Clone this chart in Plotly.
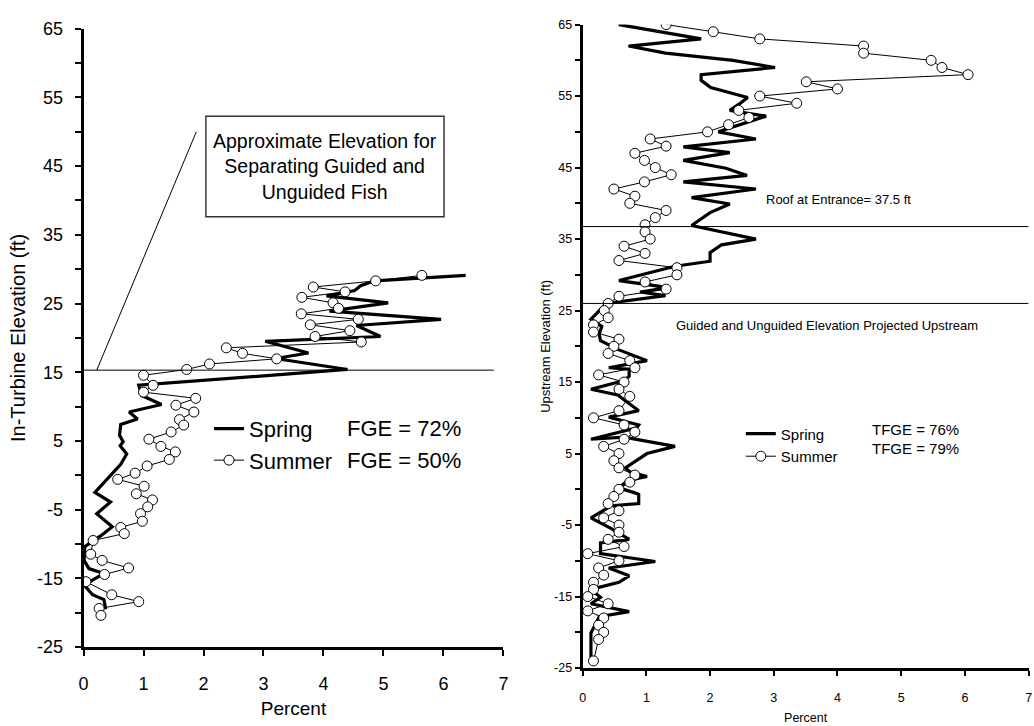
import plotly.graph_objects as go

W, H = 1034, 726

# ---------------- Left panel data (In-turbine) ----------------
left_spring_pct = [6.37, 4.85, 4.62, 4.52, 4.05, 5.08, 4.10, 5.96, 4.55, 4.95, 3.03, 3.75, 3.20, 4.40,
                   0.92, 0.97, 1.30, 0.76, 0.90, 0.62, 0.60, 0.66, 0.61, 0.72, 0.62, 0.48, 0.19, 0.45,
                   0.22, 0.48, 0.29, 0.02, 0.01, 0.09, 0.34, 0.01, 0.15, 0.34, 0.37]
left_spring_elev = [29.1, 28.3, 27.6, 26.9, 26.1, 25.1, 23.9, 22.7, 21.8, 20.2, 19.5, 17.8, 17.0, 15.4,
                    13.1, 11.6, 10.3, 9.2, 8.2, 7.4, 5.8, 4.9, 4.3, 3.1, 1.6, 0.3, -2.5, -3.9,
                    -5.6, -7.5, -8.8, -10.4, -12.4, -13.6, -14.3, -16.0, -17.4, -18.1, -19.5]

left_summer_pct = [5.64, 4.87, 3.83, 4.36, 3.64, 4.16, 4.25, 3.63, 4.58, 3.78, 4.44, 3.86, 4.63,
                   2.38, 2.65, 3.22, 2.10, 1.72, 1.00, 1.16, 1.00, 1.87, 1.54, 1.84, 1.60, 1.67,
                   1.46, 1.09, 1.29, 1.53, 1.43, 1.06, 0.86, 0.57, 1.01, 0.88, 1.15, 1.07, 0.95,
                   0.98, 0.62, 0.68, 0.16, 0.12, 0.31, 0.75, 0.35, 0.04, 0.47, 0.92, 0.26, 0.29]
left_summer_elev = [29.1, 28.3, 27.4, 26.7, 25.9, 25.1, 24.3, 23.5, 22.7, 21.9, 21.05, 20.2, 19.4,
                    18.55, 17.75, 16.95, 16.2, 15.4, 14.55, 13.1, 12.1, 11.2, 10.2, 9.2, 8.1, 7.3,
                    6.3, 5.25, 4.2, 3.4, 2.3, 1.35, 0.3, -0.6, -1.6, -2.7, -3.6, -4.6, -5.6,
                    -6.7, -7.6, -8.5, -9.5, -11.5, -12.4, -13.5, -14.45, -15.5, -17.4, -18.4, -19.4, -20.4]

# ---------------- Right panel data (Upstream) ----------------
right_spring_pct = [0.93, 0.73, 0.57, 1.86, 0.72, 1.30, 2.36, 3.02, 1.86, 1.86, 2.01, 2.44, 2.59, 2.46,
                    2.31, 2.88, 2.13, 2.72, 1.58, 2.31, 1.58, 2.25, 2.58, 1.58, 2.72, 1.71, 2.31, 2.00,
                    1.71, 2.72, 2.18, 2.00, 2.00, 1.45, 0.57, 1.35, 0.90, 1.30, 0.37, 0.22, 0.13, 0.30,
                    0.26, 0.28, 0.57, 1.01, 0.41, 0.73, 0.73, 0.65, 0.13, 0.55, 0.88, 0.41, 0.88, 0.85,
                    0.13, 0.65, 1.45, 1.01, 0.67, 0.75, 1.01, 0.70, 0.57, 0.82, 0.88, 0.88, 0.45, 0.13,
                    0.45, 0.73, 0.28, 0.28, 1.14, 0.41, 0.73, 0.57, 0.13, 0.28, 0.13, 0.73, 0.26, 0.13, 0.13]
right_spring_elev = [65.8, 65.8, 65.0, 63.0, 62.0, 61.0, 60.0, 59.0, 58.0, 57.2, 56.2, 55.2, 54.8, 53.9,
                     53.0, 52.2, 50.0, 49.0, 47.9, 47.1, 46.0, 44.9, 43.9, 43.0, 42.0, 40.8, 39.9, 38.7,
                     36.9, 35.0, 34.2, 33.1, 31.9, 31.2, 29.2, 28.2, 27.6, 27.1, 26.0, 24.6, 23.8, 22.8,
                     21.7, 20.8, 19.5, 18.0, 17.0, 16.8, 15.8, 15.2, 14.0, 13.2, 11.0, 10.1, 9.0, 8.6,
                     7.0, 7.3, 6.0, 5.0, 3.0, 2.4, 1.8, 1.2, 0.2, -0.5, -0.7, -2.0, -2.3, -4.0,
                     -5.5, -7.0, -7.5, -9.0, -10.1, -11.0, -12.1, -13.0, -14.0, -15.1, -16.0, -17.1, -17.8, -20.1, -24.2]

right_summer_pct = [1.31, 2.05, 2.78, 4.41, 4.41, 5.47, 5.64, 6.05, 3.51, 4.00, 2.78, 3.36, 2.45, 2.61,
                    2.29, 1.96, 1.06, 1.31, 0.82, 0.97, 1.14, 1.39, 0.97, 0.49, 0.82, 0.74, 1.31, 1.14,
                    0.98, 0.98, 1.06, 0.65, 0.98, 0.57, 1.48, 1.48, 0.98, 1.31, 0.57, 0.40, 0.34, 0.40,
                    0.17, 0.17, 0.57, 0.49, 0.40, 0.74, 0.82, 0.25, 0.65, 0.57, 0.74, 0.57, 0.17, 0.65,
                    0.82, 0.65, 0.33, 0.57, 0.49, 0.57, 0.82, 0.74, 0.57, 0.49, 0.40, 0.57, 0.33, 0.57,
                    0.57, 0.40, 0.65, 0.08, 0.57, 0.25, 0.33, 0.17, 0.17, 0.08, 0.40, 0.08, 0.33, 0.25,
                    0.33, 0.25, 0.17]
right_summer_elev = [65, 64, 63, 62, 61, 60, 59, 58, 57, 56, 55, 54, 53, 52,
                     51, 50, 49, 48, 47, 46, 45, 44, 43, 42, 41, 40, 39, 38,
                     37, 36, 35, 34, 33, 32, 31, 30, 29, 28, 27, 26, 25, 24,
                     23, 22, 21, 20, 19, 18, 17, 16, 15, 14, 13, 11, 10, 9,
                     8, 7, 6, 5, 4, 3, 2, 1, 0, -1, -2, -3, -4, -5,
                     -6, -7, -8, -9, -10, -11, -12, -13, -14, -15, -16, -17, -18, -19,
                     -20, -21, -24]

# y ticks every 5 ft, labelled every 10 ft
elev_ticks = [-25, -20, -15, -10, -5, 0, 5, 10, 15, 20, 25, 30, 35, 40, 45, 50, 55, 60, 65]
elev_tick_labels = ["-25", "", "-15", "", "-5", "", "5", "", "15", "", "25", "", "35", "", "45", "",
                    "55", "", "65"]
pct_ticks = [0, 1, 2, 3, 4, 5, 6, 7]

# reference lines / labels
left_sep_elev = 15.3
right_roof_elev = 36.75
right_guided_elev = 26.0

FONT = "Liberation Sans, Arial, sans-serif"

fig = go.Figure()

# Left panel
fig.add_trace(go.Scatter(x=left_spring_pct, y=left_spring_elev, mode="lines", name="Spring",
                         line=dict(color="black", width=3.2), xaxis="x", yaxis="y", legend="legend"))
fig.add_trace(go.Scatter(x=left_summer_pct, y=left_summer_elev, mode="lines+markers", name="Summer",
                         line=dict(color="black", width=1),
                         marker=dict(symbol="circle", size=10, color="white", line=dict(color="black", width=1)),
                         xaxis="x", yaxis="y", legend="legend"))
# Right panel
fig.add_trace(go.Scatter(x=right_spring_pct, y=right_spring_elev, mode="lines", name="Spring",
                         line=dict(color="black", width=3.2), xaxis="x2", yaxis="y2", legend="legend2"))
fig.add_trace(go.Scatter(x=right_summer_pct, y=right_summer_elev, mode="lines+markers", name="Summer",
                         line=dict(color="black", width=1),
                         marker=dict(symbol="circle", size=10, color="white", line=dict(color="black", width=1)),
                         xaxis="x2", yaxis="y2", legend="legend2"))

def px_x(p):
    return p / W

def px_y(p):
    return 1 - p / H

axis_common = dict(showline=True, linecolor="black", showgrid=False, zeroline=False,
                   ticks="outside", tickcolor="black")

fig.update_layout(
    width=W, height=H, margin=dict(l=0, r=0, t=0, b=0),
    paper_bgcolor="white", plot_bgcolor="white",
    font=dict(family=FONT, color="black"),
    xaxis=dict(**axis_common, domain=[px_x(79.3), px_x(503.3)], range=[0, 7],
               tickmode="array", tickvals=pct_ticks,
               linewidth=3, ticklen=6, tickwidth=2, tickfont=dict(size=18), ticklabelstandoff=12,
               title=dict(text="Percent", font=dict(size=19), standoff=10), anchor="y"),
    yaxis=dict(**axis_common, domain=[px_y(655), px_y(19.3)], range=[-25, 65],
               tickmode="array", tickvals=elev_ticks, ticktext=elev_tick_labels,
               linewidth=3, ticklen=6, tickwidth=2, tickfont=dict(size=18), ticklabelstandoff=8,
               title=dict(text="In-Turbine Elevation (ft)", font=dict(size=20), standoff=6), anchor="x"),
    xaxis2=dict(**axis_common, domain=[px_x(583.3), px_x(1033.6)], range=[0, 7],
                tickmode="array", tickvals=pct_ticks,
                linewidth=3, ticklen=5, tickwidth=2, tickfont=dict(size=12.5), ticklabelstandoff=11,
                title=dict(text="Percent", font=dict(size=12.5), standoff=10), anchor="y2"),
    yaxis2=dict(**axis_common, domain=[px_y(676.7), px_y(15)], range=[-25, 65],
                tickmode="array", tickvals=elev_ticks, ticktext=elev_tick_labels,
                linewidth=3, ticklen=5, tickwidth=2, tickfont=dict(size=12.5),
                title=dict(text="Upstream Elevation (ft)", font=dict(size=13), standoff=1), anchor="x2"),
    legend=dict(x=px_x(206), y=px_y(409), xanchor="left", yanchor="top", bgcolor="rgba(0,0,0,0)",
                font=dict(size=22), tracegroupgap=0, itemwidth=30),
    legend2=dict(x=px_x(743), y=px_y(419), xanchor="left", yanchor="top", bgcolor="rgba(0,0,0,0)",
                 font=dict(size=15), tracegroupgap=0, itemwidth=30),
    showlegend=True,
)

# Left panel reference line, leader line and box
fig.add_shape(type="line", xref="x", yref="y", x0=0, x1=6.84, y0=left_sep_elev, y1=left_sep_elev,
              line=dict(color="black", width=1))
fig.add_shape(type="line", xref="x", yref="y", x0=0.22, y0=left_sep_elev, x1=1.88, y1=50.0,
              line=dict(color="black", width=1))
fig.add_shape(type="rect", xref="x", yref="y", x0=2.04, x1=6.01, y0=37.64, y1=52.27,
              line=dict(color="#333333", width=1.5), fillcolor="rgba(0,0,0,0)")
fig.add_annotation(xref="x", yref="y", x=4.025, y=44.95, showarrow=False,
                   text="Approximate Elevation for<br>Separating Guided and<br>Unguided Fish",
                   font=dict(size=19.5), align="center")

# Left FGE labels
fig.add_annotation(xref="paper", yref="paper", x=px_x(343), y=px_y(430), xanchor="left", yanchor="middle",
                   showarrow=False, text="FGE = 72%", font=dict(size=22))
fig.add_annotation(xref="paper", yref="paper", x=px_x(343), y=px_y(463), xanchor="left", yanchor="middle",
                   showarrow=False, text="FGE = 50%", font=dict(size=22))

# Right panel reference lines
fig.add_shape(type="line", xref="x2", yref="y2", x0=-0.08, x1=7, y0=right_roof_elev, y1=right_roof_elev,
              line=dict(color="black", width=1))
fig.add_shape(type="line", xref="x2", yref="y2", x0=-0.08, x1=7, y0=right_guided_elev, y1=right_guided_elev,
              line=dict(color="black", width=1))
fig.add_annotation(xref="paper", yref="paper", x=px_x(766), y=px_y(195), xanchor="left", yanchor="middle",
                   showarrow=False, text="Roof at Entrance= 37.5 ft", font=dict(size=13))
fig.add_annotation(xref="paper", yref="paper", x=px_x(676), y=px_y(324), xanchor="left", yanchor="middle",
                   showarrow=False, text="Guided and Unguided Elevation Projected Upstream", font=dict(size=13))
fig.add_annotation(xref="paper", yref="paper", x=px_x(873), y=px_y(431), xanchor="left", yanchor="middle",
                   showarrow=False, text="TFGE = 76%", font=dict(size=15))
fig.add_annotation(xref="paper", yref="paper", x=px_x(873), y=px_y(451), xanchor="left", yanchor="middle",
                   showarrow=False, text="TFGE = 79%", font=dict(size=15))

fig.write_html("out.html")
